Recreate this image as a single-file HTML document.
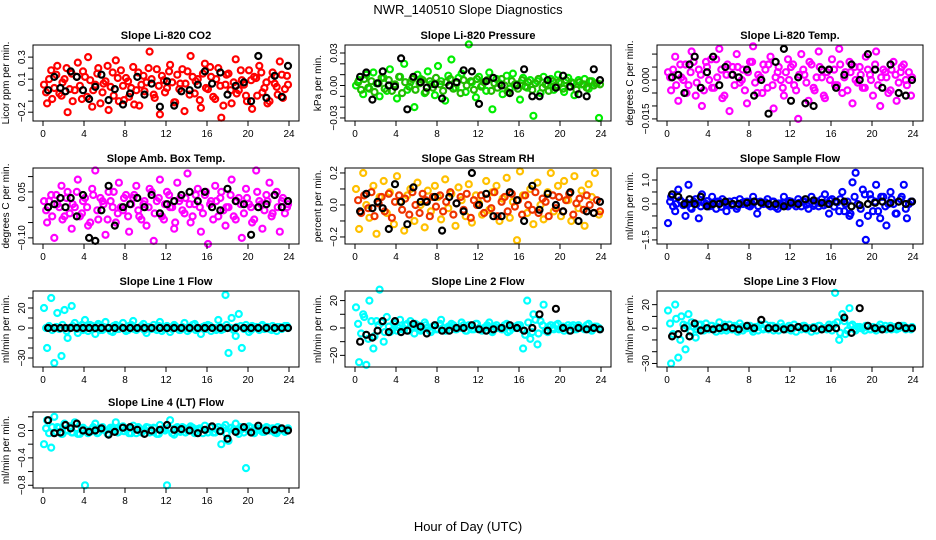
<!DOCTYPE html>
<html><head><meta charset="utf-8"><style>
body{margin:0;background:#fff;}
svg{display:block;font-family:"Liberation Sans",sans-serif;}
</style></head><body>
<svg id="chart" width="936" height="540" viewBox="0 0 936 540" xmlns="http://www.w3.org/2000/svg">
<rect width="936" height="540" fill="#fff"/>
<text x="468" y="14" font-size="13" text-anchor="middle">NWR_140510  Slope Diagnostics</text>
<text x="468" y="531" font-size="13" text-anchor="middle">Hour of Day (UTC)</text>
<g id="panels"></g>
</svg>
<script>
const hours=[0.1,0.4,0.8,1.1,1.4,1.8,2.1,2.4,2.8,3.1,3.4,3.8,4.1,4.4,4.8,5.1,5.4,5.8,6.1,6.4,6.8,7.1,7.4,7.8,8.1,8.4,8.8,9.1,9.4,9.8,10.1,10.4,10.8,11.1,11.4,11.8,12.1,12.4,12.8,13.1,13.4,13.8,14.1,14.4,14.8,15.1,15.4,15.8,16.1,16.4,16.8,17.1,17.4,17.8,18.1,18.4,18.8,19.1,19.4,19.8,20.1,20.4,20.8,21.1,21.4,21.8,22.1,22.4,22.8,23.1,23.4,23.8];
const hours2=[0.3,0.6,0.9,1.3,1.6,1.9,2.3,2.6,2.9,3.3,3.6,3.9,4.3,4.6,4.9,5.3,5.6,5.9,6.3,6.6,6.9,7.3,7.6,7.9,8.3,8.6,8.9,9.3,9.6,9.9,10.3,10.6,10.9,11.3,11.6,11.9,12.3,12.6,12.9,13.3,13.6,13.9,14.3,14.6,14.9,15.3,15.6,15.9,16.3,16.6,16.9,17.3,17.6,17.9,18.3,18.6,18.9,19.3,19.6,19.9,20.3,20.6,20.9,21.3,21.6,21.9,22.3,22.6,22.9,23.3,23.6,23.9];
const blackHours=[0.5,1.1,1.7,2.2,2.7,3.3,3.9,4.5,5.1,5.7,6.4,7.0,7.8,8.5,9.2,9.9,10.6,11.4,12.1,12.8,13.5,14.3,15.1,15.8,16.5,17.3,18.0,18.8,19.6,20.3,21.0,21.8,22.6,23.3,23.9];
const xTicks=[0,4,8,12,16,20,24];

const co2A=[0.05,-0.12,0.18,0.02,0.22,-0.05,0.1,-0.2,0.15,0.0,0.25,-0.08,0.12,0.3,-0.15,0.05,0.2,-0.02,0.08,-0.18,0.16,0.27,-0.1,0.04,0.11,-0.06,0.21,0.0,-0.14,0.13,0.07,0.35,-0.04,0.19,-0.22,0.09,0.02,0.23,-0.11,0.14,0.06,-0.19,0.17,0.31,-0.03,0.1,-0.16,0.24,0.01,0.12,-0.08,0.2,-0.25,0.05,0.15,-0.12,0.28,0.0,0.09,-0.05,0.18,-0.17,0.11,0.22,-0.02,0.07,-0.1,0.16,0.03,0.26,-0.07,0.13];
const co2B=[-0.02,0.1,-0.08,0.14,-0.03,0.07,0.2,0.01,-0.1,0.12,0.04,0.17,-0.06,0.09,0.0,0.15,-0.12,0.06,0.22,0.03,-0.05,0.11,0.18,-0.09,0.08,0.02,-0.13,0.16,0.05,-0.01,0.2,0.1,-0.07,0.04,0.13,-0.02,0.17,0.07,-0.11,0.01,0.19,0.06,-0.04,0.12,0.08,-0.09,0.15,0.02,0.21,-0.06,0.1,0.04,-0.14,0.14,0.0,0.07,-0.03,0.18,0.05,-0.1,0.09,0.12,-0.05,0.16,0.02,-0.12,0.1,0.06,-0.04,0.14,0.01,0.05];
const co2K=[0.0,0.12,0.02,-0.01,0.17,0.12,0.0,-0.08,0.03,0.14,-0.09,0.01,-0.13,-0.03,0.12,-0.04,0.06,-0.15,0.08,-0.14,-0.01,0.0,0.05,0.17,0.06,0.16,-0.04,0.04,0.07,-0.1,0.31,-0.07,0.13,-0.06,0.22];

const presA=[0.0,0.005,-0.008,0.01,-0.003,0.012,0.002,-0.01,0.007,-0.005,0.015,0.0,-0.012,0.008,0.02,-0.004,0.003,-0.02,0.01,0.006,-0.007,0.013,0.001,-0.009,0.018,0.004,-0.014,0.009,0.024,-0.002,0.007,0.011,-0.006,0.038,0.003,-0.011,0.008,0.0,-0.005,0.012,-0.022,0.006,0.002,-0.008,0.009,-0.003,0.011,0.001,-0.013,0.007,-0.002,0.005,-0.028,0.004,-0.007,0.008,0.0,0.006,-0.004,0.01,0.002,-0.006,0.007,0.003,-0.009,0.005,0.001,0.006,-0.003,0.004,0.002,-0.03];
const presB=[0.003,-0.004,0.006,-0.002,0.004,-0.006,0.002,0.007,-0.003,0.005,-0.005,0.001,0.008,-0.007,0.003,-0.001,0.006,-0.004,0.002,0.005,-0.006,0.004,-0.002,0.007,0.001,-0.005,0.003,0.006,-0.003,0.002,-0.007,0.005,0.0,0.004,-0.004,0.006,-0.001,0.003,0.005,-0.005,0.002,-0.002,0.006,0.0,-0.006,0.004,0.001,-0.003,0.005,-0.001,0.003,-0.004,0.002,0.006,-0.002,0.001,-0.005,0.004,0.0,0.003,-0.003,0.005,-0.001,0.002,-0.004,0.003,0.001,-0.002,0.004,0.0,0.002,0.001];
const presK=[0.008,0.012,-0.013,0.002,0.013,0.0,-0.001,0.025,-0.022,0.008,0.003,-0.002,0.001,-0.012,0.0,0.003,0.014,0.013,-0.017,0.004,0.007,0.0,-0.007,0.0,0.015,-0.01,-0.01,0.005,-0.002,0.009,-0.001,-0.008,-0.01,0.015,0.005];

const tempA=[0.003,-0.004,0.009,-0.008,0.001,0.006,-0.002,0.011,-0.006,0.004,-0.01,0.007,0.0,-0.003,0.008,0.012,-0.007,0.002,-0.012,0.005,0.01,-0.001,0.004,-0.009,0.007,0.013,-0.005,0.001,0.006,-0.003,0.009,-0.011,0.003,0.0,-0.006,0.008,0.005,-0.002,-0.015,0.01,0.002,-0.008,0.006,-0.004,0.011,0.001,-0.007,0.004,0.008,-0.002,0.012,-0.005,0.003,0.007,-0.009,0.0,0.005,-0.003,0.009,0.002,-0.006,0.011,-0.01,0.004,0.001,-0.004,0.007,-0.008,0.003,0.006,-0.002,-0.006];
const tempB=[0.001,0.004,-0.002,0.006,0.0,-0.005,0.003,0.007,-0.001,0.002,-0.004,0.005,0.008,-0.003,0.001,0.004,-0.006,0.006,0.002,-0.002,0.005,0.0,-0.004,0.003,0.007,-0.001,0.002,-0.005,0.004,0.006,-0.002,0.001,0.005,-0.003,0.003,0.0,0.006,-0.004,0.002,0.004,-0.001,0.007,-0.003,0.001,0.005,-0.006,0.003,0.0,0.004,-0.002,0.006,0.001,-0.004,0.003,0.005,-0.001,0.002,-0.003,0.004,0.0,0.006,-0.002,0.001,0.003,-0.005,0.004,0.002,-0.001,0.005,0.0,0.003,0.001];
const tempK=[0.001,0.002,-0.005,0.006,0.009,-0.003,0.003,0.009,-0.002,0.005,0.002,0.001,0.004,-0.006,0.0,-0.013,0.007,0.012,-0.008,0.001,-0.009,-0.01,0.004,0.004,-0.003,0.002,0.006,0.0,0.01,0.004,-0.003,0.006,-0.005,-0.006,0.0];

const ambA=[0.02,-0.05,0.04,-0.1,0.01,0.07,-0.03,0.05,-0.07,0.0,0.09,-0.02,0.03,-0.06,0.06,0.12,-0.04,0.02,-0.09,0.05,0.0,-0.05,0.08,-0.01,0.04,-0.08,0.03,0.07,-0.03,0.01,-0.06,0.06,-0.11,0.02,0.09,-0.04,0.05,0.0,-0.07,0.08,0.03,-0.02,0.11,-0.05,0.01,0.06,-0.08,0.04,-0.12,0.02,0.07,-0.03,0.05,-0.06,0.0,0.09,-0.04,0.03,-0.1,0.06,0.01,-0.05,0.12,0.02,-0.07,0.04,0.08,-0.02,0.05,-0.08,0.03,0.0];
const ambB=[-0.01,0.02,-0.03,0.04,0.0,-0.04,0.03,-0.02,0.01,0.05,-0.03,0.02,0.0,-0.05,0.04,-0.01,0.03,0.01,-0.04,0.02,0.05,-0.02,0.0,0.03,-0.03,0.01,0.04,-0.01,-0.04,0.02,0.0,0.05,-0.02,0.03,-0.03,0.01,0.04,0.0,-0.05,0.02,-0.01,0.03,0.01,-0.03,0.04,0.0,-0.02,0.05,0.01,-0.04,0.02,0.03,-0.01,0.0,0.04,-0.03,0.02,0.01,-0.02,0.03,0.0,-0.04,0.05,0.01,-0.01,0.02,-0.03,0.04,0.0,0.02,-0.02,0.01];
const ambK=[0.0,0.01,0.03,0.0,0.03,-0.03,0.04,-0.1,-0.11,-0.01,0.07,-0.06,0.0,0.01,0.03,0.0,0.04,-0.02,0.01,0.02,0.04,0.05,0.02,0.05,0.0,-0.01,0.06,0.02,0.01,-0.09,0.0,0.01,0.04,0.0,0.02];

const rhA=[0.1,-0.15,0.2,0.0,-0.08,0.12,-0.18,0.05,0.15,-0.05,0.08,-0.12,0.18,0.02,-0.16,0.06,0.1,-0.1,0.14,0.0,-0.14,0.09,-0.04,0.12,0.05,-0.09,0.16,-0.02,0.07,-0.13,0.11,0.03,-0.07,0.13,-0.11,0.06,0.01,-0.06,0.15,-0.03,0.08,0.12,-0.1,0.04,0.17,-0.08,0.02,-0.22,0.21,0.06,-0.05,0.1,-0.12,0.14,0.0,-0.09,0.08,0.2,-0.04,0.12,-0.07,0.15,0.03,-0.1,0.18,-0.02,0.09,-0.13,0.13,0.05,0.2,-0.06];
const rhB=[0.03,-0.05,0.06,-0.02,0.08,-0.07,0.01,0.05,-0.04,0.07,-0.08,0.02,0.06,-0.03,0.04,-0.06,0.08,0.0,-0.05,0.07,0.03,-0.07,0.05,-0.01,0.06,-0.04,0.02,0.08,-0.06,0.01,0.05,-0.03,0.07,-0.08,0.03,0.0,0.06,-0.05,0.04,-0.02,0.08,-0.07,0.02,0.05,-0.04,0.07,-0.01,0.03,-0.06,0.06,0.0,-0.03,0.08,-0.05,0.04,0.02,-0.07,0.06,-0.02,0.05,-0.04,0.03,0.07,-0.06,0.01,0.04,-0.03,0.06,0.0,-0.05,0.03,-0.04];
const rhK=[-0.04,0.07,-0.02,0.02,-0.02,-0.15,0.13,0.02,-0.12,0.11,0.02,0.02,0.05,-0.16,0.05,0.01,-0.04,0.2,0.0,0.07,-0.07,-0.07,0.08,0.03,-0.1,0.12,-0.03,0.07,0.0,-0.04,0.08,-0.1,-0.04,-0.05,0.02];

const flowA=[-0.8,0.3,-0.3,0.6,0.1,-0.5,0.8,-0.2,0.2,-0.6,0.4,0.0,-0.1,0.3,-0.2,0.1,0.2,-0.3,0.1,0.0,-0.2,0.2,0.0,0.1,-0.1,0.3,-0.4,0.1,0.0,0.2,-0.1,0.1,-0.2,0.0,0.3,-0.1,0.1,0.0,0.2,-0.1,0.1,-0.2,0.3,0.0,-0.1,0.2,0.4,-0.4,0.2,0.1,-0.3,0.5,0.0,-0.5,0.9,1.3,-0.8,0.6,-1.5,0.4,-0.3,0.8,-0.6,0.3,-0.9,0.5,0.0,-0.4,0.2,0.8,-0.6,0.1];
const flowB=[0.1,-0.1,0.0,0.15,-0.05,0.05,-0.15,0.1,0.0,-0.1,0.05,0.12,-0.08,0.02,0.1,-0.12,0.06,0.0,-0.05,0.13,-0.1,0.04,0.08,-0.06,0.0,0.11,-0.09,0.03,0.07,-0.04,0.1,-0.13,0.02,0.06,-0.07,0.12,0.0,-0.1,0.05,0.09,-0.03,0.01,-0.08,0.11,0.04,-0.06,0.0,0.14,-0.11,0.07,0.2,-0.3,0.1,-0.4,0.3,0.0,-0.2,0.4,-0.5,0.2,0.1,-0.3,0.3,-0.1,0.0,0.2,-0.4,0.1,0.3,-0.2,0.0,0.1];
const flowK=[0.4,0.3,0.0,0.2,0.0,0.3,-0.1,0.0,0.0,0.1,0.0,0.0,0.05,0.1,0.05,0.0,0.0,-0.1,0.05,0.0,0.2,0.15,0.05,0.0,0.1,0.1,-0.1,-0.05,0.0,0.05,0.1,0.05,0.1,0.0,0.1];

const l1A=[20,-20,30,-35,15,-28,18,-10,22,5,-5,3,8,-3,2,-6,4,-2,6,0,-4,3,-1,5,-3,2,7,-2,0,4,-5,1,3,-2,6,-1,2,-4,3,0,-2,5,-3,1,4,-1,-6,2,3,-3,0,8,-2,33,-25,10,-8,14,-20,3,-4,2,1,-2,3,0,-1,2,-3,1,0,2];
const l1B=[0,2,-2,1,-1,3,-3,0,2,-1,1,-2,0,3,-1,2,-2,1,0,-3,2,-1,1,0,-2,3,-1,0,2,-2,1,-1,0,2,-3,1,0,-1,2,-2,1,0,-1,3,-2,0,1,-1,2,0,-2,1,-1,3,0,-2,1,2,-1,0,-2,1,0,2,-1,1,-2,0,1,-1,2,0];
const l1K=[0,0,0,0,0,0,0,0,0,0,0,0,0,0,0,0,0,0,0,0,0,0,0,0,0,0,0,0,0,0,0,0,0,0,0];

const l2A=[15,-25,10,-27,20,-15,5,28,-10,8,-3,4,-2,6,-1,3,5,-4,2,-2,4,0,-3,2,-1,6,-2,1,3,-1,0,4,-2,2,-1,3,0,-2,1,4,-3,2,0,-1,3,-2,1,0,2,-15,20,-8,10,-12,5,17,-3,2,-1,3,0,-2,2,1,-1,2,0,-1,3,-2,1,0];
const l2B=[3,-4,8,-8,5,-6,2,4,-3,1,-2,3,0,-1,2,-2,1,3,-1,0,2,-2,1,-1,3,0,-2,1,2,-1,0,2,-2,1,-1,3,-1,0,2,-2,1,0,-1,2,-3,1,0,2,-1,-5,4,-3,6,-4,2,-2,1,0,2,-1,1,0,-2,2,-1,1,0,2,-1,0,1,-1];
const l2K=[-10,-5,-7,-2,5,-3,5,-3,-2,3,1,-4,2,-2,-2,0,0,2,-1,-2,-1,0,2,0,-2,0,10,-2,14,0,-2,0,-1,0,-1];

const l3A=[15,-30,20,-25,10,-18,12,5,-8,3,-2,4,-1,2,-3,5,0,-2,3,-1,1,4,-2,0,2,-3,1,3,-1,0,2,-2,1,4,-1,0,-2,3,1,-1,2,0,-3,1,2,-1,0,3,-2,30,-10,12,-5,17,3,-2,1,0,2,-1,1,-2,3,0,-1,2,0,-1,1,2,0,-1];
const l3B=[4,-5,8,-10,3,2,-3,1,-1,3,-2,0,2,-1,1,-2,3,0,-1,2,-3,1,0,2,-1,1,-2,0,3,-1,2,0,-2,1,-1,2,0,-3,1,2,-1,0,1,-2,2,0,-1,1,3,5,-4,6,-2,2,-1,1,0,-2,2,-1,0,1,-1,2,0,-1,1,0,2,-1,0,1];
const l3K=[-7,-5,0,-7,4,-2,0,-1,0,1,0,-1,2,0,7,0,0,-1,0,1,0,0,-1,0,0,9,-4,17,2,0,-1,0,2,0,0];

const l4A=[-0.2,0.15,-0.25,0.2,0.05,-0.05,0.1,0.0,-0.03,0.12,-0.05,0.03,-0.8,-0.04,0.02,0.1,-0.03,0.05,0.0,-0.06,0.04,0.12,-0.02,0.06,0.02,-0.04,0.07,-0.04,0.03,0.0,0.05,-0.03,0.04,-0.05,0.08,0.02,-0.8,0.15,-0.06,0.05,-0.02,0.03,0.0,0.06,-0.04,0.02,0.02,0.07,-0.03,0.04,-0.03,0.05,-0.2,0.08,-0.15,0.04,0.1,-0.05,0.02,-0.55,0.06,-0.03,0.04,0.01,-0.02,0.05,0.0,0.03,-0.04,0.02,0.01,0.0];
const l4B=[0.03,-0.04,0.05,-0.02,0.04,-0.05,0.01,0.06,-0.03,0.02,-0.05,0.04,0.0,-0.02,0.05,-0.04,0.03,0.01,-0.05,0.04,0.02,-0.03,0.05,-0.01,0.03,-0.04,0.02,0.05,-0.03,0.01,0.04,-0.02,0.03,-0.05,0.02,0.0,0.04,-0.04,0.03,-0.01,0.05,-0.03,0.02,0.04,-0.02,0.03,-0.04,0.01,0.05,-0.03,0.02,0.0,0.04,-0.05,0.03,0.01,-0.02,0.05,-0.03,0.02,0.04,-0.04,0.01,0.03,-0.02,0.04,0.0,-0.03,0.05,0.01,-0.02,0.03];
const l4K=[0.15,-0.04,-0.03,0.08,0.03,0.1,0.0,-0.02,0.0,0.03,-0.06,-0.02,0.04,0.05,0.01,-0.05,0.0,0.01,0.08,0.01,0.02,0.0,-0.04,0.01,0.06,-0.01,-0.12,-0.02,0.05,-0.03,0.07,0.0,0.01,0.03,0.0];

const panels=[
 {id:'co2',title:'Slope Li-820 CO2',ylab:'Licor ppm per min.',col:0,row:0,ymin:-0.28,ymax:0.41,ticks:[-0.2,-0.1,0,0.1,0.2,0.3],labels:{'-0.2':'-0.2','0.1':'0.1','0.3':'0.3'},A:co2A,B:co2B,K:co2K,cA:'#ff0000',cB:'#ff0000'},
 {id:'pressure',title:'Slope Li-820 Pressure',ylab:'kPa per min.',col:1,row:0,ymin:-0.0328,ymax:0.0374,ticks:[-0.03,-0.02,-0.01,0,0.01,0.02,0.03],labels:{'-0.03':'-0.03','0':'0.00','0.03':'0.03'},A:presA,B:presB,K:presK,cA:'#00ee00',cB:'#22bb00'},
 {id:'temp',title:'Slope Li-820 Temp.',ylab:'degrees C per min.',col:2,row:0,ymin:-0.0158,ymax:0.0135,ticks:[-0.015,-0.01,-0.005,0,0.005,0.01],labels:{'-0.015':'-0.015','0':'0.000'},A:tempA,B:tempB,K:tempK,cA:'#ff00ff',cB:'#ff00ff'},
 {id:'amb-box',title:'Slope Amb. Box Temp.',ylab:'degrees C per min.',col:0,row:1,ymin:-0.12,ymax:0.128,ticks:[-0.1,-0.05,0,0.05,0.1],labels:{'-0.1':'-0.10','0.05':'0.05'},A:ambA,B:ambB,K:ambK,cA:'#ff00ff',cB:'#ff00ff'},
 {id:'rh',title:'Slope Gas Stream RH',ylab:'percent per min.',col:1,row:1,ymin:-0.244,ymax:0.231,ticks:[-0.2,-0.1,0,0.1,0.2],labels:{'-0.2':'-0.2','0':'0.0','0.2':'0.2'},A:rhA,B:rhB,K:rhK,cA:'#ffc000',cB:'#ee3300'},
 {id:'sample-flow',title:'Slope Sample Flow',ylab:'ml/min per min.',col:2,row:1,ymin:-1.67,ymax:1.5,ticks:[-1.5,-1,-0.5,0,0.5,1],labels:{'-1.5':'-1.5','0':'0.0','1':'1.0'},A:flowA,B:flowB,K:flowK,cA:'#0000ff',cB:'#0000ff'},
 {id:'line1',title:'Slope Line 1 Flow',ylab:'ml/min per min.',col:0,row:2,ymin:-39,ymax:37,ticks:[-30,-20,-10,0,10,20,30],labels:{'-30':'-30','0':'0','20':'20'},A:l1A,B:l1B,K:l1K,cA:'#00ffff',cB:'#00ffff'},
 {id:'line2',title:'Slope Line 2 Flow',ylab:'ml/min per min.',col:1,row:2,ymin:-28.5,ymax:27,ticks:[-20,-10,0,10,20],labels:{'-20':'-20','0':'0','20':'20'},A:l2A,B:l2B,K:l2K,cA:'#00ffff',cB:'#00ffff'},
 {id:'line3',title:'Slope Line 3 Flow',ylab:'ml/min per min.',col:2,row:2,ymin:-33,ymax:31.6,ticks:[-30,-20,-10,0,10,20],labels:{'-30':'-30','0':'0','20':'20'},A:l3A,B:l3B,K:l3K,cA:'#00ffff',cB:'#00ffff'},
 {id:'line4',title:'Slope Line 4 (LT) Flow',ylab:'ml/min per min.',col:0,row:3,ymin:-0.84,ymax:0.27,ticks:[-0.8,-0.6,-0.4,-0.2,0,0.2],labels:{'-0.8':'-0.8','-0.4':'-0.4','0':'0.0'},A:l4A,B:l4B,K:l4K,cA:'#00ffff',cB:'#00ffff'}
];
const NS='http://www.w3.org/2000/svg';
const root=document.getElementById('panels');
function mk(tag,attrs,parent){const e=document.createElementNS(NS,tag);for(const k in attrs)e.setAttribute(k,attrs[k]);parent.appendChild(e);return e;}
const colLeft=[33,345,657], rowTop=[45,168,291,412], W=266, H=76;
panels.forEach(p=>{
  const L=colLeft[p.col], T=rowTop[p.row], R=L+W, B=T+H;
  const xs=h=>L+10+(h/24)*(W-20);
  const ys=v=>B-(v-p.ymin)/(p.ymax-p.ymin)*H;
  const g=mk('g',{},root);
  
  
  const t=mk('text',{x:(L+R)/2,y:T-6,'font-size':11,'font-weight':'bold','text-anchor':'middle'},g);
  t.textContent=p.title;
  
  
  const yl=mk('text',{x:0,y:0,'font-size':10,'text-anchor':'middle',transform:`translate(${L-24},${(T+B)/2}) rotate(-90)`},g);
  yl.textContent=p.ylab;
  
  
  const pts=mk('g',{fill:'none','stroke-width':2.2},g);
  
  
  const dot=(x,y,c,nm)=>{const yy=ys(y);if(yy<T-2||yy>B+2)return;const e=mk('circle',{cx:xs(x).toFixed(1),cy:yy.toFixed(1),r:3,stroke:c},pts);
    
    };
  p.A.forEach((v,i)=>dot(hours[i],v,p.cA,'point-a'));
  p.B.forEach((v,i)=>dot(hours2[i],v,p.cB,'point-b'));
  p.K.forEach((v,i)=>dot(blackHours[i],v,'#000','point-black'));
  const box=mk('rect',{x:L,y:T,width:W,height:H,fill:'none',stroke:'#000','stroke-width':1},g);
  
  
  const ax=mk('g',{stroke:'#000','stroke-width':1},g);
  
  
  xTicks.forEach(h=>{const x=xs(h);mk('line',{x1:x,y1:B,x2:x,y2:B+5},ax);
    const tl=mk('text',{x:x,y:B+16,'font-size':10,'text-anchor':'middle',stroke:'none'},g);tl.textContent=h;
    
    });
  p.ticks.forEach(v=>{const y=ys(v);mk('line',{x1:L,y1:y,x2:L-5,y2:y},ax);
    const key=String(v);if(p.labels[key]!==undefined){
      const tl=mk('text',{x:0,y:0,'font-size':10,'text-anchor':'middle',transform:`translate(${L-8},${y}) rotate(-90)`},g);tl.textContent=p.labels[key].replace('-','\u2212');
      
      }});
});
</script>
</body></html>
